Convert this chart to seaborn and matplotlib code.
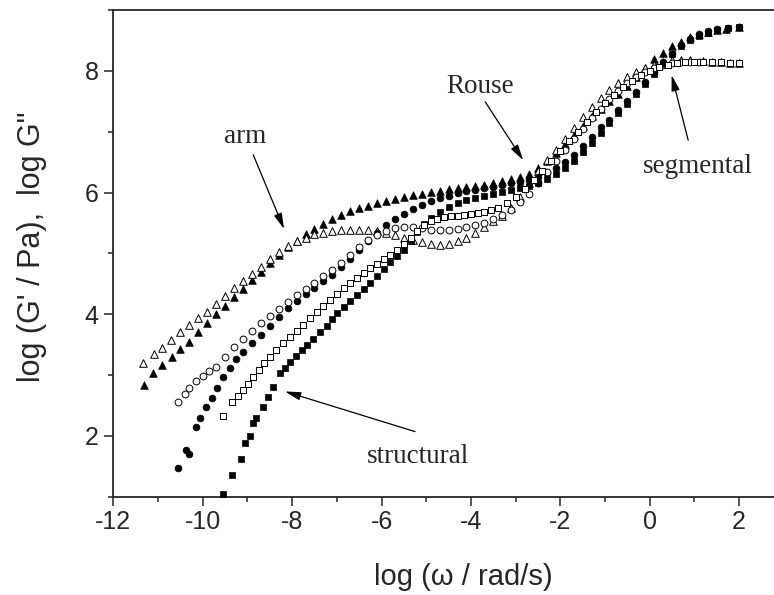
import numpy as np
import pandas as pd
import matplotlib
matplotlib.use("Agg")
import matplotlib.pyplot as plt
import seaborn as sns

# ---- data ----
# sample with triangles
tri_gp_x = [-11.32, -11.11, -10.90, -10.69, -10.5, -10.3, -10.1, -9.9, -9.7, -9.5, -9.3, -9.1, -8.9, -8.7, -8.5,
            -8.3, -8.1, -7.9, -7.7, -7.5, -7.3, -7.1, -6.9, -6.7, -6.5, -6.3, -6.1, -5.9, -5.7, -5.5, -5.3, -5.1,
            -4.9, -4.7, -4.5, -4.3, -4.1, -3.9, -3.7, -3.5, -3.3, -3.1, -2.9, -2.7, -2.5, -2.3, -2.1, -1.9, -1.7,
            -1.5, -1.3, -1.1, -0.9, -0.7, -0.5, -0.3, -0.1, 0.1, 0.3, 0.5, 0.7, 0.9, 1.1, 1.3, 1.5, 1.7, 2.0]
tri_gp_y = [2.84, 3.04, 3.17, 3.30, 3.42, 3.55, 3.70, 3.86, 4.00, 4.14, 4.28, 4.42, 4.56, 4.70, 4.84,
            4.98, 5.10, 5.20, 5.31, 5.40, 5.49, 5.57, 5.63, 5.69, 5.74, 5.78, 5.83, 5.86, 5.90, 5.93, 5.96, 5.98,
            6.01, 6.03, 6.05, 6.07, 6.09, 6.11, 6.13, 6.16, 6.19, 6.22, 6.26, 6.31, 6.40, 6.52, 6.65, 6.80, 6.95,
            7.10, 7.25, 7.38, 7.50, 7.62, 7.75, 7.90, 8.05, 8.20, 8.30, 8.40, 8.48, 8.55, 8.60, 8.64, 8.67, 8.69, 8.72]

tri_gpp_x = [-11.33, -11.1, -10.9, -10.7, -10.5, -10.3, -10.1, -9.9, -9.7, -9.5, -9.3, -9.1, -8.9, -8.7, -8.5,
             -8.3, -8.1, -7.9, -7.7, -7.5, -7.3, -7.1, -6.9, -6.7, -6.5, -6.3, -6.1, -5.9, -5.7, -5.5, -5.3, -5.1,
             -4.9, -4.7, -4.5, -4.3, -4.1, -3.9, -3.7, -3.5, -3.3, -3.1, -2.9, -2.7, -2.5, -2.3, -2.1, -1.9, -1.7,
             -1.5, -1.3, -1.1, -0.9, -0.7, -0.5, -0.3, -0.1, 0.1, 0.3, 0.5, 0.7, 0.9, 1.2, 1.4, 1.6, 1.8, 2.0]
tri_gpp_y = [3.19, 3.35, 3.45, 3.58, 3.71, 3.82, 3.93, 4.04, 4.17, 4.30, 4.43, 4.55, 4.66, 4.78, 4.90,
             5.03, 5.12, 5.20, 5.26, 5.31, 5.34, 5.36, 5.38, 5.38, 5.38, 5.38, 5.36, 5.33, 5.30, 5.26, 5.22, 5.18,
             5.15, 5.14, 5.15, 5.20, 5.26, 5.33, 5.43, 5.53, 5.62, 5.75, 5.92, 6.15, 6.36, 6.54, 6.70, 6.88, 7.06,
             7.24, 7.40, 7.55, 7.68, 7.80, 7.90, 7.98, 8.05, 8.10, 8.14, 8.17, 8.18, 8.18, 8.16, 8.15, 8.14, 8.13, 8.13]

# sample with circles
cir_gp_x = [-10.55, -10.38, -10.3, -10.15, -10.06, -9.93, -9.8, -9.69, -9.55, -9.4, -9.25, -9.1, -8.9, -8.7,
            -8.5, -8.3, -8.1, -7.9, -7.7, -7.5, -7.3, -7.1, -6.9, -6.7, -6.5, -6.3, -6.1, -5.9, -5.7, -5.5, -5.3,
            -5.1, -4.9, -4.7, -4.5, -4.3, -4.1, -3.9, -3.7, -3.5, -3.3, -3.1, -2.9, -2.7, -2.5, -2.3, -2.1, -1.9,
            -1.7, -1.5, -1.3, -1.1, -0.9, -0.7, -0.5, -0.3, -0.1, 0.1, 0.3, 0.5, 0.7, 0.9, 1.1, 1.3, 1.5, 1.75, 2.0]
cir_gp_y = [1.47, 1.77, 1.70, 2.15, 2.29, 2.48, 2.63, 2.78, 2.96, 3.12, 3.26, 3.38, 3.52, 3.65,
            3.80, 3.96, 4.10, 4.22, 4.33, 4.43, 4.54, 4.65, 4.77, 4.90, 5.05, 5.20, 5.34, 5.46, 5.56, 5.65, 5.73,
            5.80, 5.86, 5.91, 5.95, 5.99, 6.02, 6.04, 6.07, 6.09, 6.12, 6.15, 6.18, 6.21, 6.26, 6.32, 6.40, 6.50,
            6.62, 6.76, 6.92, 7.08, 7.20, 7.35, 7.50, 7.66, 7.82, 7.98, 8.14, 8.28, 8.42, 8.52, 8.60, 8.65, 8.68, 8.70, 8.72]

cir_gpp_x = [-10.55, -10.4, -10.3, -10.15, -10.0, -9.85, -9.7, -9.5, -9.3, -9.1, -8.9, -8.7, -8.5, -8.3, -8.1,
             -7.9, -7.7, -7.5, -7.3, -7.1, -6.9, -6.7, -6.5, -6.3, -6.1, -5.9, -5.7, -5.5, -5.3, -5.1, -4.9, -4.7,
             -4.5, -4.3, -4.1, -3.9, -3.7, -3.5, -3.3, -3.1, -2.9, -2.7, -2.5, -2.3, -2.1, -1.9, -1.7, -1.5, -1.3,
             -1.1, -0.9, -0.7, -0.5, -0.3, -0.1, 0.1, 0.3, 0.5, 0.7, 0.9, 1.1]
cir_gpp_y = [2.55, 2.68, 2.78, 2.90, 2.98, 3.06, 3.14, 3.30, 3.46, 3.60, 3.72, 3.85, 3.97, 4.09, 4.20,
             4.32, 4.42, 4.52, 4.62, 4.72, 4.84, 4.98, 5.10, 5.22, 5.30, 5.36, 5.41, 5.43, 5.43, 5.41, 5.39, 5.38,
             5.38, 5.40, 5.43, 5.46, 5.50, 5.56, 5.63, 5.72, 5.84, 5.98, 6.15, 6.34, 6.52, 6.70, 6.88, 7.05, 7.22,
             7.38, 7.53, 7.67, 7.80, 7.90, 7.98, 8.05, 8.10, 8.13, 8.15, 8.15, 8.15]

# sample with squares
sq_gp_x = [-9.55, -9.35, -9.15, -9.05, -8.94, -8.87, -8.8, -8.66, -8.53, -8.42, -8.27, -8.15, -8.05, -7.92,
           -7.79, -7.66, -7.53, -7.38, -7.23, -7.1, -7.0, -6.85, -6.7, -6.55, -6.4, -6.25, -6.1, -5.95, -5.8,
           -5.65, -5.5, -5.35, -5.2, -5.05, -4.9, -4.7, -4.5, -4.3, -4.1, -3.9, -3.7, -3.5, -3.3, -3.1, -2.9,
           -2.7, -2.5, -2.3, -2.1, -1.9, -1.7, -1.5, -1.3, -1.1, -0.9, -0.7, -0.5, -0.3, -0.1, 0.1, 0.3, 0.5,
           0.7, 0.9, 1.1, 1.3, 1.5, 1.75, 2.0]
sq_gp_y = [1.05, 1.36, 1.62, 1.89, 1.99, 2.21, 2.30, 2.48, 2.64, 2.81, 3.03, 3.12, 3.22, 3.32,
           3.41, 3.50, 3.60, 3.70, 3.80, 3.92, 4.02, 4.12, 4.22, 4.32, 4.42, 4.52, 4.63, 4.74, 4.85,
           4.95, 5.05, 5.20, 5.35, 5.48, 5.58, 5.68, 5.76, 5.82, 5.87, 5.91, 5.95, 5.98, 6.01, 6.04, 6.07,
           6.11, 6.16, 6.22, 6.30, 6.40, 6.52, 6.66, 6.82, 6.98, 7.14, 7.30, 7.46, 7.62, 7.78, 7.95, 8.12, 8.27,
           8.40, 8.50, 8.58, 8.63, 8.67, 8.70, 8.72]

sq_gpp_x = [-9.55, -9.35, -9.2, -9.09, -8.98, -8.87, -8.75, -8.64, -8.5, -8.35, -8.2, -8.05, -7.9, -7.75,
            -7.6, -7.45, -7.3, -7.15, -7.0, -6.85, -6.7, -6.55, -6.4, -6.25, -6.1, -5.95, -5.8, -5.65, -5.5,
            -5.35, -5.2, -5.05, -4.9, -4.75, -4.6, -4.45, -4.3, -4.15, -4.0, -3.85, -3.7, -3.55, -3.4, -3.2,
            -3.0, -2.8, -2.6, -2.4, -2.2, -2.0, -1.8, -1.6, -1.4, -1.2, -1.0, -0.8, -0.6, -0.4, -0.2, 0.0, 0.2,
            0.4, 0.6, 0.8, 1.0, 1.2, 1.4, 1.6, 1.8, 2.0]
sq_gpp_y = [2.33, 2.55, 2.65, 2.76, 2.86, 2.97, 3.08, 3.19, 3.30, 3.41, 3.52, 3.62, 3.73, 3.83,
            3.94, 4.04, 4.14, 4.24, 4.34, 4.43, 4.52, 4.60, 4.68, 4.76, 4.83, 4.90, 4.97, 5.05, 5.15,
            5.26, 5.37, 5.46, 5.53, 5.57, 5.60, 5.61, 5.62, 5.63, 5.64, 5.66, 5.68, 5.71, 5.75, 5.83,
            5.93, 6.06, 6.20, 6.36, 6.52, 6.68, 6.85, 7.00, 7.16, 7.32, 7.47, 7.60, 7.73, 7.84, 7.93, 8.00, 8.06,
            8.10, 8.13, 8.15, 8.15, 8.15, 8.14, 8.14, 8.13, 8.13]

# (name, x, y, marker, filled, size)
series = [
    ("tri G'", tri_gp_x, tri_gp_y, "^", True, 30),
    ("tri G''", tri_gpp_x, tri_gpp_y, "^", False, 30),
    ("cir G'", cir_gp_x, cir_gp_y, "o", True, 24),
    ("cir G''", cir_gpp_x, cir_gpp_y, "o", False, 24),
    ("sq G'", sq_gp_x, sq_gp_y, "s", True, 20),
    ("sq G''", sq_gpp_x, sq_gpp_y, "s", False, 20),
]

# annotation labels: text, text position (baseline), arrow tail, arrow tip
notes = [
    ("arm", (-9.05, 6.81), (-8.87, 6.62), (-8.18, 5.40)),
    ("Rouse", (-3.80, 7.63), (-3.68, 7.49), (-2.83, 6.53)),
    ("segmental", (1.08, 6.32), (0.86, 6.86), (0.49, 7.93)),
    ("structural", (-5.18, 1.56), (-5.25, 2.07), (-8.16, 2.73)),
]

sns.set_style("ticks")
plt.rcParams['font.family'] = ['Liberation Sans', 'DejaVu Sans']
plt.rcParams['axes.unicode_minus'] = False

fig = plt.figure(figsize=(7.74, 5.95), dpi=100)
ax = fig.add_axes([0.1464, 0.1652, 1 - 0.1464, 0.818])

for name, xs, ys, mk, filled, size in series:
    df = pd.DataFrame({'x': xs, 'y': ys})
    if filled:
        sns.scatterplot(data=df, x='x', y='y', marker=mk, s=size, color='black',
                        edgecolor='black', linewidth=0.5, ax=ax, zorder=3)
    else:
        sns.scatterplot(data=df, x='x', y='y', marker=mk, s=size, color='white',
                        edgecolor='black', linewidth=0.7, ax=ax, zorder=3)

for label, txt_pos, tail, tip in notes:
    ax.text(txt_pos[0], txt_pos[1], label, ha='center', va='baseline',
            fontsize=19.5, family=['Liberation Serif', 'DejaVu Serif'])
    ax.annotate('', xy=tip, xytext=tail,
                arrowprops=dict(arrowstyle='-|>,head_length=0.5,head_width=0.13',
                                color='black', lw=0.9, mutation_scale=19,
                                shrinkA=0, shrinkB=0))

ax.set_xlim(-12, 2.78)
ax.set_ylim(1, 9)
ax.set_xticks([-12, -10, -8, -6, -4, -2, 0, 2])
ax.set_xticks(np.arange(-11, 3, 2), minor=True)
ax.set_yticks([2, 4, 6, 8])
ax.set_yticks([1, 3, 5, 7, 9], minor=True)
ax.tick_params(which='major', direction='out', length=6.5, width=1.1, labelsize=18)
ax.tick_params(axis='x', which='major', pad=3)
ax.tick_params(axis='y', which='major', pad=4)
ax.tick_params(which='minor', direction='out', length=3.5, width=1.1)
for sp in ['left', 'bottom', 'top']:
    ax.spines[sp].set_linewidth(1.3)
ax.spines['right'].set_visible(False)

ax.set_xlabel('log (\u03c9 / rad/s)', fontsize=21)
ax.set_ylabel('log (G\' / Pa),  log G"', fontsize=22)
ax.xaxis.set_label_coords(0.529, -0.137)
ax.yaxis.set_label_coords(-0.100, 0.514)

fig.savefig('out.png', dpi=100)
